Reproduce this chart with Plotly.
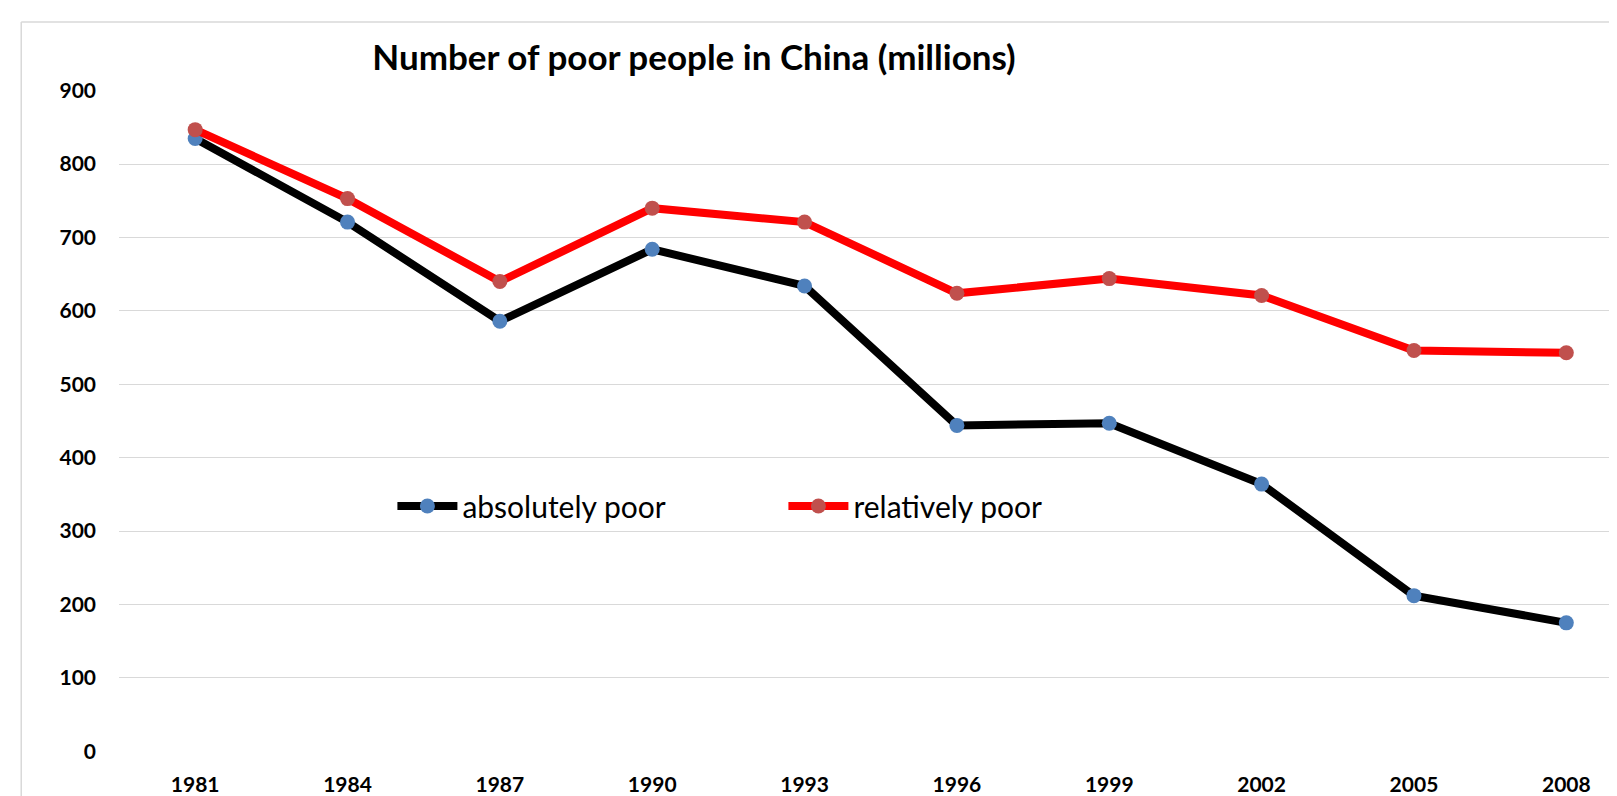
import plotly.graph_objects as go

years = ["1981", "1984", "1987", "1990", "1993", "1996", "1999", "2002", "2005", "2008"]
absolutely_poor = [835, 721, 586, 684, 634, 444, 447, 364, 212, 175]
relatively_poor = [847, 753, 640, 740, 721, 624, 644, 621, 546, 543]
y_ticks = [0, 100, 200, 300, 400, 500, 600, 700, 800, 900]
title_text = "Number of poor people in China (millions)"

W, H = 1617, 796
L, R, T, B = 110.5, 0, 82, 52
FONT = "Lato, 'Open Sans', sans-serif"
pw = W - L - R
ph = H - T - B
cat_px = 152.4  # pixel width of one category


def px_to_paper_x(px):
    return (px - L) / pw


def px_to_paper_y(py):
    return (H - B - py) / ph


fig = go.Figure()
fig.add_trace(go.Scatter(
    x=years, y=absolutely_poor, name="absolutely poor", mode="lines+markers",
    line=dict(color="#000000", width=8),
    marker=dict(color="#4F81BD", size=15),
))
fig.add_trace(go.Scatter(
    x=years, y=relatively_poor, name="relatively poor", mode="lines+markers",
    line=dict(color="#FF0000", width=8),
    marker=dict(color="#C0504D", size=15),
))

x_right = -0.5 + pw / cat_px

fig.update_layout(
    width=W, height=H,
    margin=dict(l=L, r=R, t=T, b=B, pad=0),
    paper_bgcolor="white", plot_bgcolor="white",
    font=dict(family=FONT, color="#000000"),
    title=dict(text="<b>" + title_text + "</b>", x=686 / W, xanchor="center",
               y=1 - 50 / H, yanchor="middle", yref="container",
               font=dict(family=FONT, size=35, color="#000000")),
    showlegend=True,
    legend=dict(orientation="h", x=px_to_paper_x(384), xanchor="left",
                y=px_to_paper_y(498), yanchor="middle",
                font=dict(family=FONT, size=30, color="#000000"),
                bgcolor="rgba(0,0,0,0)", entrywidth=316, entrywidthmode="pixels",
                itemwidth=60, itemsizing="trace"),
    xaxis=dict(type="category", range=[-0.5, x_right], showgrid=False,
               zeroline=False, showline=False, ticks="",
               tickfont=dict(family=FONT, size=21, color="#000000", weight="bold"),
               ticklabelstandoff=18),
    yaxis=dict(range=[-1, 901], tickvals=y_ticks, showgrid=True,
               gridcolor="#d9d9d9", gridwidth=1.4, zeroline=False,
               showline=False, ticks="",
               tickfont=dict(family=FONT, size=21, color="#000000", weight="bold"),
               ticklabelstandoff=22),
    shapes=[
        dict(type="line", xref="paper", yref="paper",
             x0=px_to_paper_x(12.7), x1=px_to_paper_x(W + 5),
             y0=px_to_paper_y(14), y1=px_to_paper_y(14),
             line=dict(color="#d9d9d9", width=1.5)),
        dict(type="line", xref="paper", yref="paper",
             x0=px_to_paper_x(12.7), x1=px_to_paper_x(12.7),
             y0=px_to_paper_y(14), y1=px_to_paper_y(H + 5),
             line=dict(color="#d9d9d9", width=1.5)),
    ],
)

fig.write_html("out.html")
